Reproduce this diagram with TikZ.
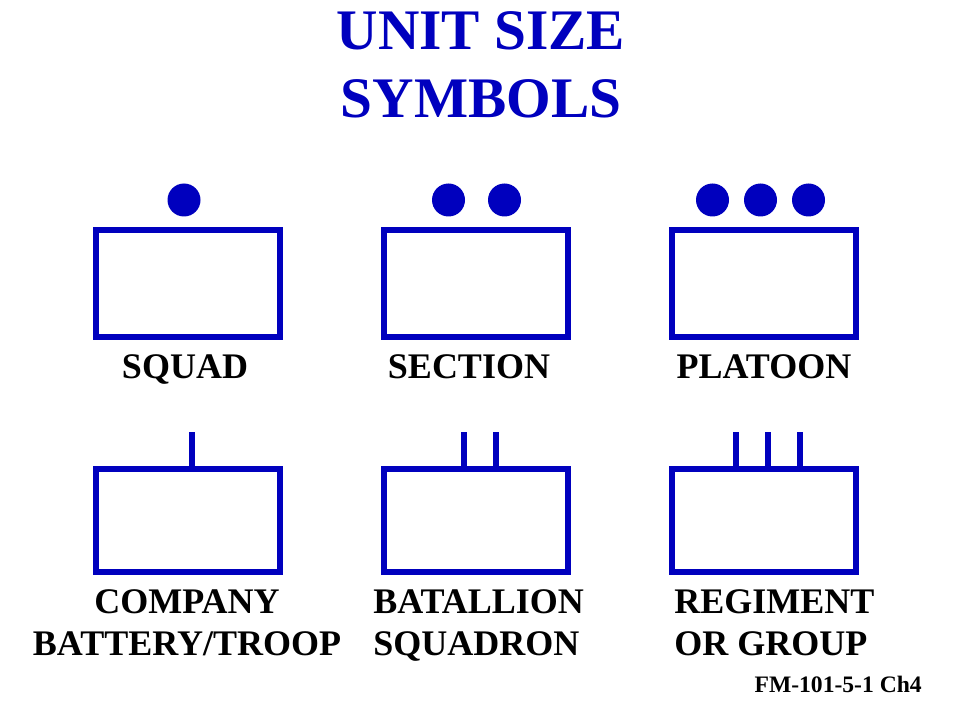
\documentclass[tikz,border=0pt]{standalone}
\usepackage{fontspec}
\setmainfont{Liberation Serif}
\definecolor{unitblue}{RGB}{0,0,190}

\begin{document}
\begin{tikzpicture}[x=0.75pt,y=-0.75pt,
  unitbox/.style={draw=unitblue,line width=4.5pt},
  unitdot/.style={fill=unitblue},
  unitbar/.style={draw=unitblue,line width=4.5pt},
  lbl/.style={anchor=base,inner sep=0pt,font=\bfseries\fontsize{27}{32}\selectfont},
  ttl/.style={anchor=base,inner sep=0pt,text=unitblue,font=\bfseries\fontsize{43}{48}\selectfont}]
  \useasboundingbox (0,0) rectangle (960,720);
  % Coordinates
  \coordinate (a1) at (96,230);  \coordinate (a2) at (280,337);
  \coordinate (b1) at (384,230); \coordinate (b2) at (568,337);
  \coordinate (c1) at (672,230); \coordinate (c2) at (856,337);
  \coordinate (d1) at (96,469);  \coordinate (d2) at (280,572);
  \coordinate (e1) at (384,469); \coordinate (e2) at (568,572);
  \coordinate (f1) at (672,469); \coordinate (f2) at (856,572);
  % Boxes
  \draw[unitbox] (a1) rectangle (a2);
  \draw[unitbox] (b1) rectangle (b2);
  \draw[unitbox] (c1) rectangle (c2);
  \draw[unitbox] (d1) rectangle (d2);
  \draw[unitbox] (e1) rectangle (e2);
  \draw[unitbox] (f1) rectangle (f2);
  % Dots
  \fill[unitdot] (184,200) circle (16.5);
  \foreach \x in {448.5,504.5} \fill[unitdot] (\x,200) circle (16.5);
  \foreach \x in {712.5,760.5,808.5} \fill[unitdot] (\x,200) circle (16.5);
  % Bars
  \coordinate (d3) at (192,469); \coordinate (d4) at (192,432);
  \draw[unitbar] (d3) -- (d4);
  \foreach \x in {464,496} \draw[unitbar] (\x,469) -- (\x,432);
  \foreach \x in {736,768,800} \draw[unitbar] (\x,469) -- (\x,432);
  % Title
  \node[ttl] (t1) at (481,50) {UNIT SIZE};
  \node[ttl] (t2) at (481,118) {SYMBOLS};
  % Labels
  \node[lbl] (squad) at (185,378) {SQUAD};
  \node[lbl] (section) at (469,378) {SECTION};
  \node[lbl] (platoon) at (764,378) {PLATOON};
  \node[lbl] (company) at (187,613) {COMPANY};
  \node[lbl] (battery) at (187,655) {BATTERY/TROOP};
  \node[lbl,anchor=base west] (batallion) at (373,613) {BATALLION};
  \node[lbl,anchor=base west] (squadron) at (373,655) {SQUADRON};
  \node[lbl,anchor=base west] (regiment) at (674,613) {REGIMENT};
  \node[lbl,anchor=base west] (group) at (674,655) {OR GROUP};
  \node[lbl,anchor=base east,font=\bfseries\fontsize{17.7}{21}\selectfont] (fm) at (922,692) {FM-101-5-1 Ch4};
\end{tikzpicture}
\end{document}
